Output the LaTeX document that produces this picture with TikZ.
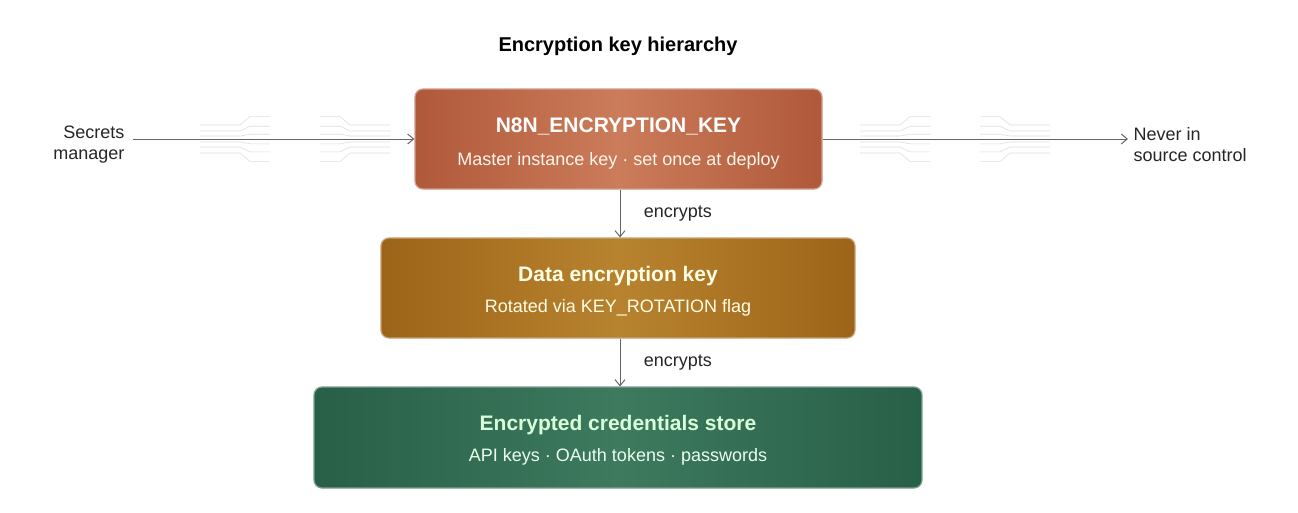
\documentclass[tikz,border=0pt]{standalone}
\usepackage{fontspec}
\setmainfont{Liberation Sans}
\begin{document}
\begin{tikzpicture}[x=1pt,y=-1pt,
  box/.style={draw=#1!60!white, line width=1.2pt, rounded corners=8pt, minimum height=100pt, inner sep=0pt, align=center},
  ttl/.style={font=\fontsize{21}{24}\selectfont\bfseries},
  sub/.style={font=\fontsize{18}{22}\selectfont},
  arr/.style={draw=gray!80!black, line width=1pt, ->, >={Straight Barb[length=6pt,width=10pt]}},
  lab/.style={font=\fontsize{18}{21}\selectfont, text=black!85, align=left},
  circ/.style={draw=gray!25, line width=0.6pt}
]
\usetikzlibrary{arrows.meta}
\useasboundingbox (0,0) rectangle (1298,512);
\fill[white] (0,0) rectangle (1298,512);
\definecolor{cu}{HTML}{B0593A}\definecolor{cul}{HTML}{CB7C5A}
\definecolor{au}{HTML}{9C6418}\definecolor{aul}{HTML}{B8832F}
\definecolor{gr}{HTML}{275F47}\definecolor{grl}{HTML}{3D7A5E}
\node[font=\fontsize{20}{24}\selectfont\bfseries] (title) at (618,46) {Encryption key hierarchy};
% decorative circuit traces
\foreach \x/\s in {200/1,390/-1,860/1,1050/-1}{
  \foreach \d in {-14,-8,-3,3,8,14}{
    \draw[circ] (\x,139+\d) -- ++(\s*40,0) -- ++(\s*10,\d*0.6) -- ++(\s*20,0);
  }
}
\shade[rounded corners=8pt, left color=cu, right color=cu, middle color=cul] (415,89) rectangle (822,189);
\node[box=cu, minimum width=407pt, text=white] (k1) at (618.5,139) {};
\node[ttl, text=white] at (618.5,126) {N8N\_ENCRYPTION\_KEY};
\node[sub, text=white!92!orange] at (618.5,161) {Master instance key · set once at deploy};
\shade[rounded corners=8pt, left color=au, right color=au, middle color=aul] (381,238) rectangle (855,338);
\node[box=au, minimum width=474pt] (k2) at (618,288) {};
\node[ttl, text=white!90!yellow] at (618,276) {Data encryption key};
\node[sub, text=white!90!yellow] at (618,308) {Rotated via KEY\_ROTATION flag};
\shade[rounded corners=8pt, left color=gr, right color=gr, middle color=grl] (314,387) rectangle (922,488);
\node[box=gr, minimum width=608pt, minimum height=101pt] (k3) at (618,437.5) {};
\node[ttl, text=green!15!white] at (618,425) {Encrypted credentials store};
\node[sub, text=green!8!white] at (618,457) {API keys · OAuth tokens · passwords};
\node[lab, align=right, anchor=east] (sm) at (128,145) {Secrets\\manager};
\node[lab, anchor=west] (nv) at (1130,145) {Never in\\source control};
\coordinate (a1) at (133,139);
\coordinate (b1) at (1128,139);
\draw[arr] (a1) -- (k1.west);
\draw[arr] (k1.east) -- (b1);
\draw[arr] (k1.south -| 620,0) -- (k2.north -| 620,0) node[lab, midway, right=20pt] {encrypts};
\draw[arr] (k2.south -| 620,0) -- (k3.north -| 620,0) node[lab, midway, right=20pt] {encrypts};
\end{tikzpicture}
\end{document}
